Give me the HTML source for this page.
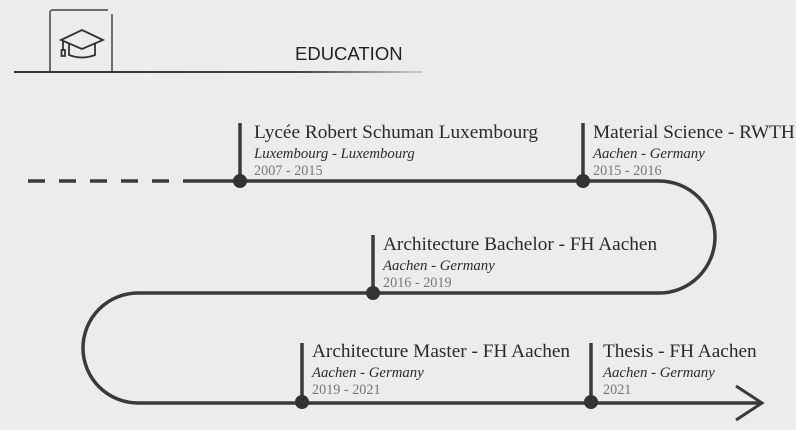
<!DOCTYPE html>
<html><head><style>
body{margin:0;background:#ececec;}
svg{display:block}
.t{font-family:"Liberation Serif",serif;font-size:19.3px;fill:#2a2a2a}
.i{font-family:"Liberation Serif",serif;font-style:italic;font-size:14.8px;fill:#2a2a2a}
.y{font-family:"Liberation Serif",serif;font-size:14.2px;fill:#777}
</style></head><body>
<svg width="796" height="430" viewBox="0 0 796 430">
<defs><linearGradient id="g" x1="0" x2="1"><stop offset="0" stop-color="#333"/><stop offset="0.7" stop-color="#444"/><stop offset="1" stop-color="#ccc"/></linearGradient></defs>
<path d="M50 71 V13 Q50 10 53 10 H108" fill="none" stroke="#444" stroke-width="1.5"/>
<line x1="112" y1="14" x2="112" y2="71" stroke="#444" stroke-width="1.5"/>
<rect x="14" y="71" width="408" height="2" fill="url(#g)"/>
<g fill="none" stroke="#333" stroke-width="1.8">
<path d="M61 40 L82 30 L103 40 L82 49 Z"/>
<path d="M69 44 V55 Q82 60 95 55 V44"/>
<path d="M63 41 V50"/><rect x="61.5" y="50" width="3.5" height="6"/>
</g>
<text x="295" y="60" font-family="Liberation Sans,sans-serif" font-size="18.5" fill="#222">EDUCATION</text>
<g fill="none" stroke="#3a3a3a" stroke-width="3.5">
<path d="M28 181 H200" stroke-dasharray="17 14"/>
<path d="M200 181 H659 A56 56 0 0 1 659 293 H138 A55 55 0 0 0 138 403 H762"/>
<path d="M736 386 L762 403 L736 420" stroke-width="3"/>
<line x1="240" y1="123" x2="240" y2="181"/>
<line x1="583" y1="123" x2="583" y2="181"/>
<line x1="373" y1="235" x2="373" y2="293"/>
<line x1="302" y1="343" x2="302" y2="403"/>
<line x1="591" y1="343" x2="591" y2="403"/>
</g>
<g fill="#333">
<circle cx="240" cy="181" r="7"/><circle cx="583" cy="181" r="7"/>
<circle cx="373" cy="293" r="7"/><circle cx="302" cy="402" r="7"/><circle cx="591" cy="402" r="7"/>
</g>
<text class="t" x="254" y="138">Lycée Robert Schuman Luxembourg</text>
<text class="i" x="254" y="158">Luxembourg - Luxembourg</text>
<text class="y" x="254" y="175">2007 - 2015</text>
<text class="t" x="593" y="138">Material Science - RWTH</text>
<text class="i" x="593" y="158">Aachen - Germany</text>
<text class="y" x="593" y="175">2015 - 2016</text>
<text class="t" x="383" y="250">Architecture Bachelor - FH Aachen</text>
<text class="i" x="383" y="270">Aachen - Germany</text>
<text class="y" x="383" y="287">2016 - 2019</text>
<text class="t" x="312" y="357">Architecture Master - FH Aachen</text>
<text class="i" x="312" y="377">Aachen - Germany</text>
<text class="y" x="312" y="394">2019 - 2021</text>
<text class="t" x="603" y="357">Thesis - FH Aachen</text>
<text class="i" x="603" y="377">Aachen - Germany</text>
<text class="y" x="603" y="394">2021</text>
</svg>
</body></html>
